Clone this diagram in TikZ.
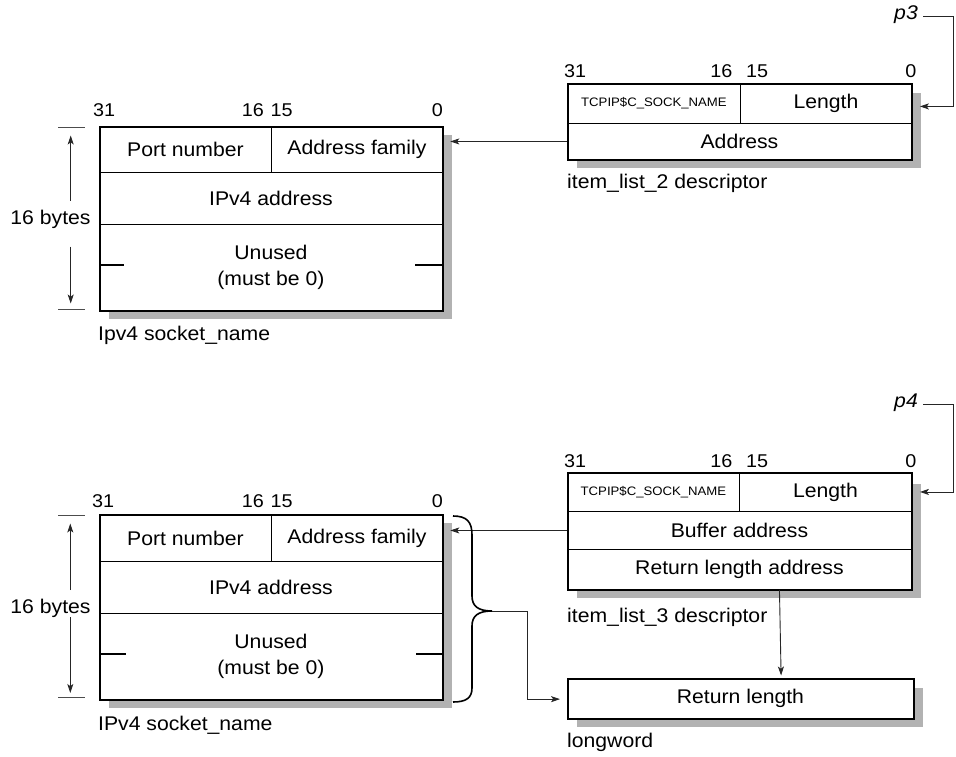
\documentclass[tikz,border=0pt]{standalone}
\usepackage{fontspec}
\setmainfont{Liberation Sans}[FakeStretch=1.07]
\usetikzlibrary{arrows.meta}
\definecolor{shadowgray}{gray}{0.70}
\newcommand\mainsz{\fontsize{19.8}{25.5}\selectfont}
\newcommand\bitsz{\fontsize{18.5}{20}\selectfont}
\newcommand\tinysz{\fontsize{12.3}{14}\selectfont}
\begin{document}
\begin{tikzpicture}[x=1pt,y=-1pt,
 cell/.style={draw, line width=0.9pt, fill=white, inner sep=0pt, anchor=north west, font=\mainsz, align=center},
 outer/.style={draw, line width=2.3pt, inner sep=0pt, anchor=north west},
 shade/.style={fill=shadowgray},
 bitl/.style={font=\bitsz, inner sep=0pt, anchor=base west},
 bitr/.style={font=\bitsz, inner sep=0pt, anchor=base east},
 captext/.style={font=\mainsz, inner sep=0pt, anchor=base west},
 lab/.style={font=\mainsz, inner sep=0pt},
 conn/.style={line width=0.9pt, draw=black!85},
 arr/.style={conn, -{Stealth[length=9pt,width=6pt,inset=2.2pt]}},
 tickline/.style={line width=0.9pt, draw=black!70},
 brace/.style={line width=1.6pt},
]
\useasboundingbox (0,0) rectangle (956,757);

% ---------- Box A: Ipv4 socket_name (top) ----------
\fill[shade] (109,135) rectangle (452,319);
\node[cell, minimum width=172pt, minimum height=46pt] (portA) at (99,126) {Port number};
\node[cell, minimum width=171pt, minimum height=46pt] (famA) at (271,126) {Address family};
\node[cell, minimum width=343pt, minimum height=52pt] (ipA) at (99,172) {IPv4 address};
\node[cell, minimum width=343pt, minimum height=86pt] (unA) at (99,224) {Unused\\(must be 0)};
\node[outer, minimum width=343pt, minimum height=184pt] (sA) at (99,126) {};
\draw[line width=1.2pt] (99,265) -- (124,265);
\draw[line width=1.2pt] (415,265) -- (442,265);
\node[bitl] (a31) at (93,116.5) {31};
\node[bitr] (a16) at (264,116.5) {16};
\node[bitl] (a15) at (270.5,116.5) {15};
\node[bitr] (a0) at (443,116.5) {0};
\node[captext] (capA) at (98,340) {Ipv4 socket\_name};
% dimension
\draw[tickline] (58,127) -- (85,127);
\draw[tickline] (58,309) -- (85,309);
\node[lab] (bytesA) at (50.5,219) {16 bytes};
\coordinate (dA1) at (70.7,200.7);
\coordinate (dA2) at (70.7,135.5);
\coordinate (dA3) at (70.7,246.7);
\coordinate (dA4) at (70.7,303.5);
\draw[arr] (dA1) -- (dA2);
\draw[arr] (dA3) -- (dA4);

% ---------- Box B: item_list_2 descriptor ----------
\fill[shade] (577,93) rectangle (921,168);
\node[cell, minimum width=173pt, minimum height=40pt, font=\tinysz] (tcpB) at (567,83) {TCPIP\$C\_SOCK\_NAME};
\node[cell, minimum width=171pt, minimum height=40pt] (lenB) at (740,83) {Length};
\node[cell, minimum width=344pt, minimum height=36pt] (addrB) at (567,123) {Address};
\node[outer, minimum width=344pt, minimum height=76pt] (sB) at (567,83) {};
\node[bitl] (b31) at (564,78) {31};
\node[bitr] (b16) at (732.5,78) {16};
\node[bitl] (b15) at (746,78) {15};
\node[bitr] (b0) at (916.5,78) {0};
\node[captext] (capB) at (567,188) {item\_list\_2 descriptor};
\node[lab, anchor=east, font=\mainsz\itshape] (p3) at (918,15) {p3};
\coordinate (p3r) at (953,16);
\draw[arr, shorten >=8pt] ([xshift=5pt]p3.east |- p3r) -- (p3r) |- ([yshift=-3pt]lenB.east);
\draw[arr, shorten >=6pt] (addrB.west) -- (addrB.west -| sA.east);

% ---------- Box C: IPv4 socket_name (bottom) ----------
\fill[shade] (109,523) rectangle (452,708);
\node[cell, minimum width=172pt, minimum height=47pt] (portC) at (99,514) {Port number};
\node[cell, minimum width=171pt, minimum height=47pt] (famC) at (271,514) {Address family};
\node[cell, minimum width=343pt, minimum height=52pt] (ipC) at (99,561) {IPv4 address};
\node[cell, minimum width=343pt, minimum height=86pt] (unC) at (99,613) {Unused\\(must be 0)};
\node[outer, minimum width=343pt, minimum height=185pt] (sC) at (99,514) {};
\draw[line width=1.2pt] (99,654) -- (126,654);
\draw[line width=1.2pt] (416,654) -- (442,654);
\node[bitl] (c31) at (92,507) {31};
\node[bitr] (c16) at (264,507) {16};
\node[bitl] (c15) at (270.5,507) {15};
\node[bitr] (c0) at (443,507) {0};
\node[captext] (capC) at (98,730) {IPv4 socket\_name};
\draw[tickline] (58,515.7) -- (85,515.7);
\draw[tickline] (58,697.3) -- (85,697.3);
\node[lab] (bytesC) at (50.5,608) {16 bytes};
\coordinate (dC1) at (70.3,590);
\coordinate (dC2) at (70.3,523.5);
\coordinate (dC3) at (70.3,617);
\coordinate (dC4) at (70.3,693);
\draw[arr] (dC1) -- (dC2);
\draw[arr] (dC3) -- (dC4);

% ---------- Box D: item_list_3 descriptor ----------
\fill[shade] (577,484) rectangle (921,598);
\node[cell, minimum width=172pt, minimum height=39pt, font=\tinysz] (tcpD) at (567,472) {TCPIP\$C\_SOCK\_NAME};
\node[cell, minimum width=172pt, minimum height=39pt] (lenD) at (739,472) {Length};
\node[cell, minimum width=344pt, minimum height=38pt] (bufD) at (567,511) {Buffer address};
\node[cell, minimum width=344pt, minimum height=40pt] (rlaD) at (567,549) {Return length address};
\node[outer, minimum width=344pt, minimum height=117pt] (sD) at (567,472) {};
\node[bitl] (d31) at (564,467) {31};
\node[bitr] (d16) at (732.5,467) {16};
\node[bitl] (d15) at (746,467) {15};
\node[bitr] (d0) at (916.5,467) {0};
\node[captext] (capD) at (567,622) {item\_list\_3 descriptor};
\node[lab, anchor=east, font=\mainsz\itshape] (p4) at (918,403) {p4};
\coordinate (p4r) at (953,404);
\draw[arr, shorten >=8pt] ([xshift=5pt]p4.east |- p4r) -- (p4r) |- (lenD.east);
\draw[arr, shorten >=6pt] (bufD.west) -- (bufD.west -| sC.east);

% ---------- Box E: longword ----------
\fill[shade] (577,688) rectangle (923,727);
\node[cell, minimum width=346pt, minimum height=40pt] (retE) at (567,678) {Return length};
\node[outer, minimum width=346pt, minimum height=40pt] (sE) at (567,678) {};
\node[captext] (capE) at (567,747) {longword};
\draw[arr, shorten >=2.5pt] ([xshift=40pt]rlaD.south) -- ([xshift=40pt]sE.north);

% ---------- brace and its connector ----------
\coordinate (brTop) at (453,516);
\coordinate (brTip) at (492,611);
\coordinate (brBot) at (453,702);
\coordinate (brK) at (527,611);
\draw[brace] (brTop) .. controls (467,516) and (472,522) .. (472,535)
  -- (472,596) .. controls (472,606) and (478,611) .. (brTip)
  .. controls (478,611) and (472,616) .. (472,626)
  -- (472,688) .. controls (472,698) and (466,702) .. (brBot);
\draw[arr, shorten >=7pt] (brTip) -- (brK) |- (sE.west);
\end{tikzpicture}
\end{document}
